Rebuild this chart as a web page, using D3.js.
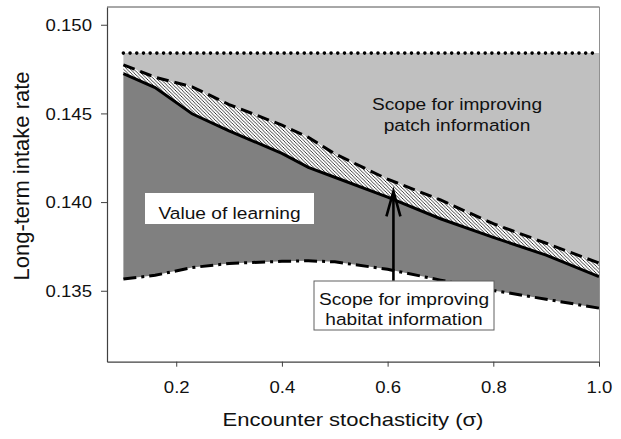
<!DOCTYPE html>
<html>
<head>
<meta charset="utf-8">
<script src="https://cdn.jsdelivr.net/npm/d3@7"></script>
<style>
  body { margin: 0; background: #fff; }
  text { font-family: "Liberation Sans", Arial, sans-serif; fill: #111; }
</style>
</head>
<body>
<div id="chart"></div>
<script>
// encounter stochasticity (sigma) values
var sigma = [0.1, 0.16, 0.23, 0.3, 0.4, 0.45, 0.5, 0.6, 0.7, 0.8, 0.9, 1.0];
// dotted: full information
var fullInfo = [0.1484, 0.1484, 0.1484, 0.1484, 0.1484, 0.1484, 0.1484, 0.1484, 0.1484, 0.1484, 0.1484, 0.1484];
// dashed: habitat known
var habitatKnown = [0.14774, 0.14704, 0.14650, 0.14550, 0.14434, 0.14365, 0.14272, 0.14129, 0.14012, 0.13878, 0.13768, 0.13656];
// solid: learner
var learner = [0.14724, 0.14646, 0.14498, 0.14402, 0.14275, 0.14196, 0.14140, 0.14028, 0.13906, 0.13801, 0.13701, 0.13580];
// dash-dot: no learning
var noLearning = [0.13566, 0.13587, 0.13631, 0.13654, 0.13666, 0.13669, 0.13663, 0.13621, 0.13560, 0.13502, 0.13452, 0.13402];

var xTicks = [0.2, 0.4, 0.6, 0.8, 1.0];
var yTicks = [0.135, 0.140, 0.145, 0.150];

var width = 621, height = 439;
var stretch = 1.16; // text in the original is a bit wide

var svg = d3.select("#chart").append("svg")
      .attr("width", width)
      .attr("height", height);

var x = d3.scaleLinear().domain([0.069, 1.0]).range([107, 599]);
var y = d3.scaleLinear().domain([0.131, 0.151]).range([361.7, 7]);

var rows = sigma.map(function(s, i) {
      return { s: s, full: fullInfo[i], hab: habitatKnown[i], learn: learner[i], none: noLearning[i] };
});

// hatch pattern
var defs = svg.append("defs");
defs.append("pattern")
      .attr("id", "hatch")
      .attr("patternUnits", "userSpaceOnUse")
      .attr("width", 3.4).attr("height", 3.4)
      .call(function(p) {
            p.append("rect").attr("width", 3.4).attr("height", 3.4).attr("fill", "#fff");
            p.append("path")
                  .attr("d", "M-1,-1 L4.4,4.4 M2.4,-1 L4.4,1 M-1,2.4 L1,4.4")
                  .attr("stroke", "#000").attr("stroke-width", 0.75);
      });

function band(lo, hi) {
      return d3.area()
            .x(function(d) { return x(d.s); })
            .y0(function(d) { return y(d[lo]); })
            .y1(function(d) { return y(d[hi]); })(rows);
}

svg.append("path").attr("d", band("hab", "full")).attr("fill", "#c0c0c0");
svg.append("path").attr("d", band("learn", "hab")).attr("fill", "url(#hatch)");
svg.append("path").attr("d", band("none", "learn")).attr("fill", "#808080");

function line(key) {
      return d3.line()
            .x(function(d) { return x(d.s); })
            .y(function(d) { return y(d[key]); })(rows);
}

svg.append("path").attr("d", line("full")).attr("fill", "none")
      .attr("stroke", "#000").attr("stroke-width", 3.6)
      .attr("stroke-linecap", "round").attr("stroke-dasharray", "0,6.7");
svg.append("path").attr("d", line("hab")).attr("fill", "none")
      .attr("stroke", "#000").attr("stroke-width", 3).attr("stroke-dasharray", "12,6");
svg.append("path").attr("d", line("learn")).attr("fill", "none")
      .attr("stroke", "#000").attr("stroke-width", 3);
svg.append("path").attr("d", line("none")).attr("fill", "none")
      .attr("stroke", "#000").attr("stroke-width", 3).attr("stroke-dasharray", "13,5,3,5");

// frame (top and right)
svg.append("path")
      .attr("d", "M107,7 H599.5").attr("stroke", "#505050").attr("stroke-width", 1);
svg.append("path")
      .attr("d", "M599.5,7 V361.7").attr("stroke", "#909090").attr("stroke-width", 1);

// axes
var xAxis = svg.append("g")
      .attr("transform", "translate(0,361.7)")
      .call(d3.axisBottom(x).tickValues(xTicks).tickFormat(d3.format(".1f")).tickSize(5).tickSizeOuter(0));
xAxis.select(".domain").attr("stroke", "#404040").attr("stroke-width", 1.2);
xAxis.selectAll(".tick line").attr("stroke", "#404040");
xAxis.selectAll(".tick text")
      .attr("y", 0).attr("dy", null)
      .attr("transform", "translate(0,31) scale(" + stretch + ",1)")
      .style("font-size", "16px").style("font-family", "Liberation Sans, Arial, sans-serif").style("fill", "#111");

var yAxis = svg.append("g")
      .attr("transform", "translate(107,0)")
      .call(d3.axisLeft(y).tickValues(yTicks).tickFormat(d3.format(".3f")).tickSize(6).tickSizeOuter(0));
yAxis.select(".domain").attr("stroke", "#404040").attr("stroke-width", 1.2);
yAxis.selectAll(".tick line").attr("stroke", "#404040");
yAxis.selectAll(".tick text")
      .attr("x", 0).attr("dy", "0.36em")
      .attr("transform", "translate(-15,0) scale(" + stretch + ",1)")
      .style("font-size", "16px").style("font-family", "Liberation Sans, Arial, sans-serif").style("fill", "#111");

// axis titles
svg.append("text")
      .attr("transform", "translate(353,426) scale(" + stretch + ",1)")
      .attr("text-anchor", "middle")
      .style("font-size", "19px")
      .text("Encounter stochasticity (σ)");

svg.append("text")
      .attr("transform", "translate(29,176) rotate(-90)")
      .attr("text-anchor", "middle")
      .style("font-size", "22px")
      .text("Long-term intake rate");

// labels
function label(lines, cx, baseline, gap) {
      lines.forEach(function(t, i) {
            svg.append("text")
                  .attr("transform", "translate(" + cx + "," + (baseline + i * gap) + ") scale(" + stretch + ",1)")
                  .attr("text-anchor", "middle")
                  .style("font-size", "16.5px")
                  .text(t);
      });
}

label(["Scope for improving", "patch information"], 457, 110, 21);

svg.append("rect").attr("x", 145).attr("y", 193).attr("width", 169).attr("height", 31).attr("fill", "#fff");
label(["Value of learning"], 229.5, 219, 0);

// arrow to the hatched band
var arrowAt = 0.611, arrowFrom = 0.13556, arrowTo = 0.1406;
svg.append("line")
      .attr("x1", x(arrowAt)).attr("x2", x(arrowAt))
      .attr("y1", y(arrowFrom)).attr("y2", y(arrowTo) + 1)
      .attr("stroke", "#000").attr("stroke-width", 2.6);
svg.append("path")
      .attr("d", "M" + (x(arrowAt) - 7) + "," + (y(arrowTo) + 25) + " L" + x(arrowAt) + "," + y(arrowTo) +
                 " L" + (x(arrowAt) + 7) + "," + (y(arrowTo) + 25))
      .attr("fill", "none").attr("stroke", "#000").attr("stroke-width", 2.6);

svg.append("rect").attr("x", 314).attr("y", 281).attr("width", 180).attr("height", 49)
      .attr("fill", "#fff").attr("stroke", "#606060").attr("stroke-width", 1);
label(["Scope for improving", "habitat information"], 404, 305, 20);
</script>
</body>
</html>
